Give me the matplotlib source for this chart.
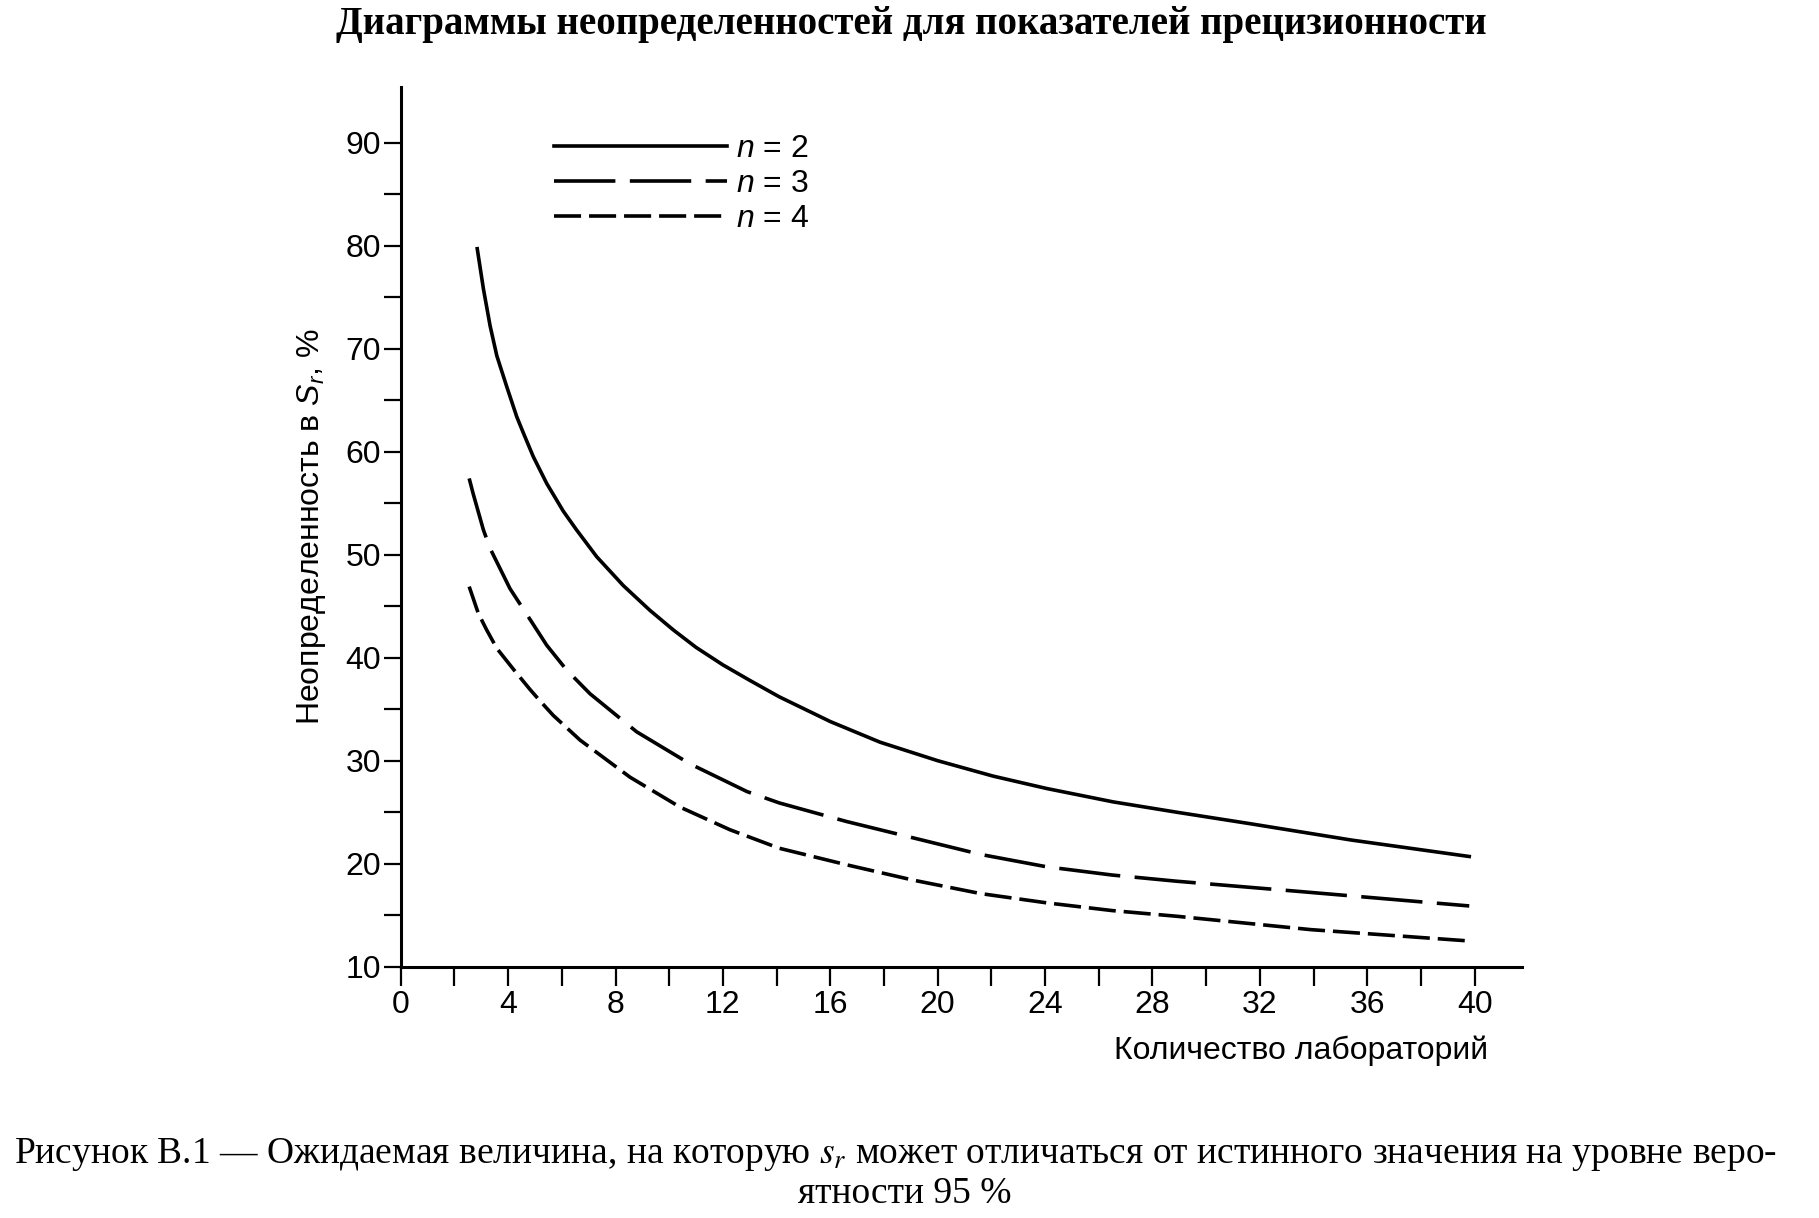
import matplotlib.pyplot as plt
from matplotlib.ticker import MultipleLocator

# данные
labs_n2 = [2.85, 3.08, 3.33, 3.58, 3.95, 4.32, 4.57, 4.94, 5.44, 6.06, 6.55,
           7.3, 8.29, 9.28, 10.15, 11.0, 12.0, 13.0, 14.1, 16.0, 17.85, 20.0,
           22.07, 24.06, 26.54, 28.9, 31.6, 35.4, 39.8]
unc_n2 = [79.7, 75.8, 72.2, 69.3, 66.3, 63.4, 61.8, 59.5, 56.9, 54.2, 52.4,
          49.8, 47.0, 44.6, 42.7, 41.0, 39.3, 37.8, 36.2, 33.8, 31.8, 30.0,
          28.5, 27.3, 26.0, 25.0, 23.9, 22.3, 20.7]

labs_n3 = [2.55, 2.7, 3.08, 3.33, 4.07, 4.82, 5.44, 6.18, 7.05, 8.79, 10.77,
           12.9, 14.1, 16.6, 19.1, 21.6, 24.06, 26.5, 28.9, 33.5, 39.8]
unc_n3 = [57.4, 55.9, 52.4, 50.6, 46.7, 43.7, 41.2, 38.8, 36.5, 32.8, 29.7,
          27.0, 25.9, 24.1, 22.5, 20.9, 19.7, 18.9, 18.3, 17.3, 15.9]

labs_n4 = [2.55, 2.89, 3.2, 3.58, 4.19, 4.82, 5.19, 5.68, 6.68, 8.54, 10.4,
           12.26, 14.1, 16.6, 19.1, 21.6, 24.06, 26.5, 28.9, 33.9, 39.8]
unc_n4 = [46.9, 44.3, 42.7, 40.9, 38.9, 36.9, 35.8, 34.4, 32.0, 28.4, 25.5,
          23.3, 21.5, 19.9, 18.4, 17.1, 16.2, 15.45, 14.9, 13.6, 12.5]

series_labels = [r'$n$ = 2', r'$n$ = 3', r'$n$ = 4']

plt.rcParams['font.family'] = ['Liberation Sans', 'DejaVu Sans']
plt.rcParams['mathtext.fontset'] = 'custom'
plt.rcParams['mathtext.it'] = 'Liberation Sans:italic'
plt.rcParams['mathtext.rm'] = 'Liberation Sans'

fig = plt.figure(figsize=(18.19, 12.18), dpi=100)
ax = fig.add_axes([0.2203, 0.2063, 0.6162, 0.7223])

ax.plot(labs_n2, unc_n2, color='black', lw=2.6, ls='-', label=series_labels[0])
ax.plot(labs_n3, unc_n3, color='black', lw=2.6, ls=(0, (17, 4)), label=series_labels[1])
ax.plot(labs_n4, unc_n4, color='black', lw=2.6, ls=(0, (7.5, 2.2)), label=series_labels[2])

ax.set_xlim(0, 41.75)
ax.set_ylim(10, 95.4)
ax.spines['top'].set_visible(False)
ax.spines['right'].set_visible(False)
ax.spines['left'].set_linewidth(2.2)
ax.spines['bottom'].set_linewidth(2.2)

ax.xaxis.set_major_locator(MultipleLocator(4))
ax.xaxis.set_minor_locator(MultipleLocator(2))
ax.set_yticks(range(10, 91, 10))
ax.set_yticks(range(15, 90, 10), minor=True)
ax.tick_params(axis='both', which='both', direction='out', width=1.6)
ax.tick_params(axis='x', which='both', length=14, pad=3, labelsize=23)
ax.tick_params(axis='y', which='both', length=12, pad=2, labelsize=23)

ax.set_xlabel('Количество лабораторий', fontsize=23, ha='right', va='center')
ax.xaxis.set_label_coords(0.970, -0.095)
ax.set_ylabel(r'Неопределенность в $S_r$, %', fontsize=23, va='center')
ax.yaxis.set_label_coords(-0.080, 0.5)

ax.legend(loc='upper left', bbox_to_anchor=(0.12, 0.968), frameon=False,
          fontsize=23, handlelength=5.4, handletextpad=0.3, labelspacing=0.15,
          borderpad=0.1)

fig.text(0.501, 0.980, 'Диаграммы неопределенностей для показателей прецизионности',
         ha='center', va='center', fontsize=28, fontweight='bold',
         family=['Liberation Serif', 'DejaVu Serif'])
fig.text(0.4925, 0.0525,
         r'Рисунок В.1 — Ожидаемая величина, на которую $s_r$ может отличаться '
         r'от истинного значения на уровне веро-',
         ha='center', va='center', fontsize=27,
         family=['Liberation Serif', 'DejaVu Serif'], math_fontfamily='stix')
fig.text(0.4975, 0.020, 'ятности 95 %', ha='center', va='center', fontsize=27,
         family=['Liberation Serif', 'DejaVu Serif'])

fig.savefig('out.png', dpi=100)
